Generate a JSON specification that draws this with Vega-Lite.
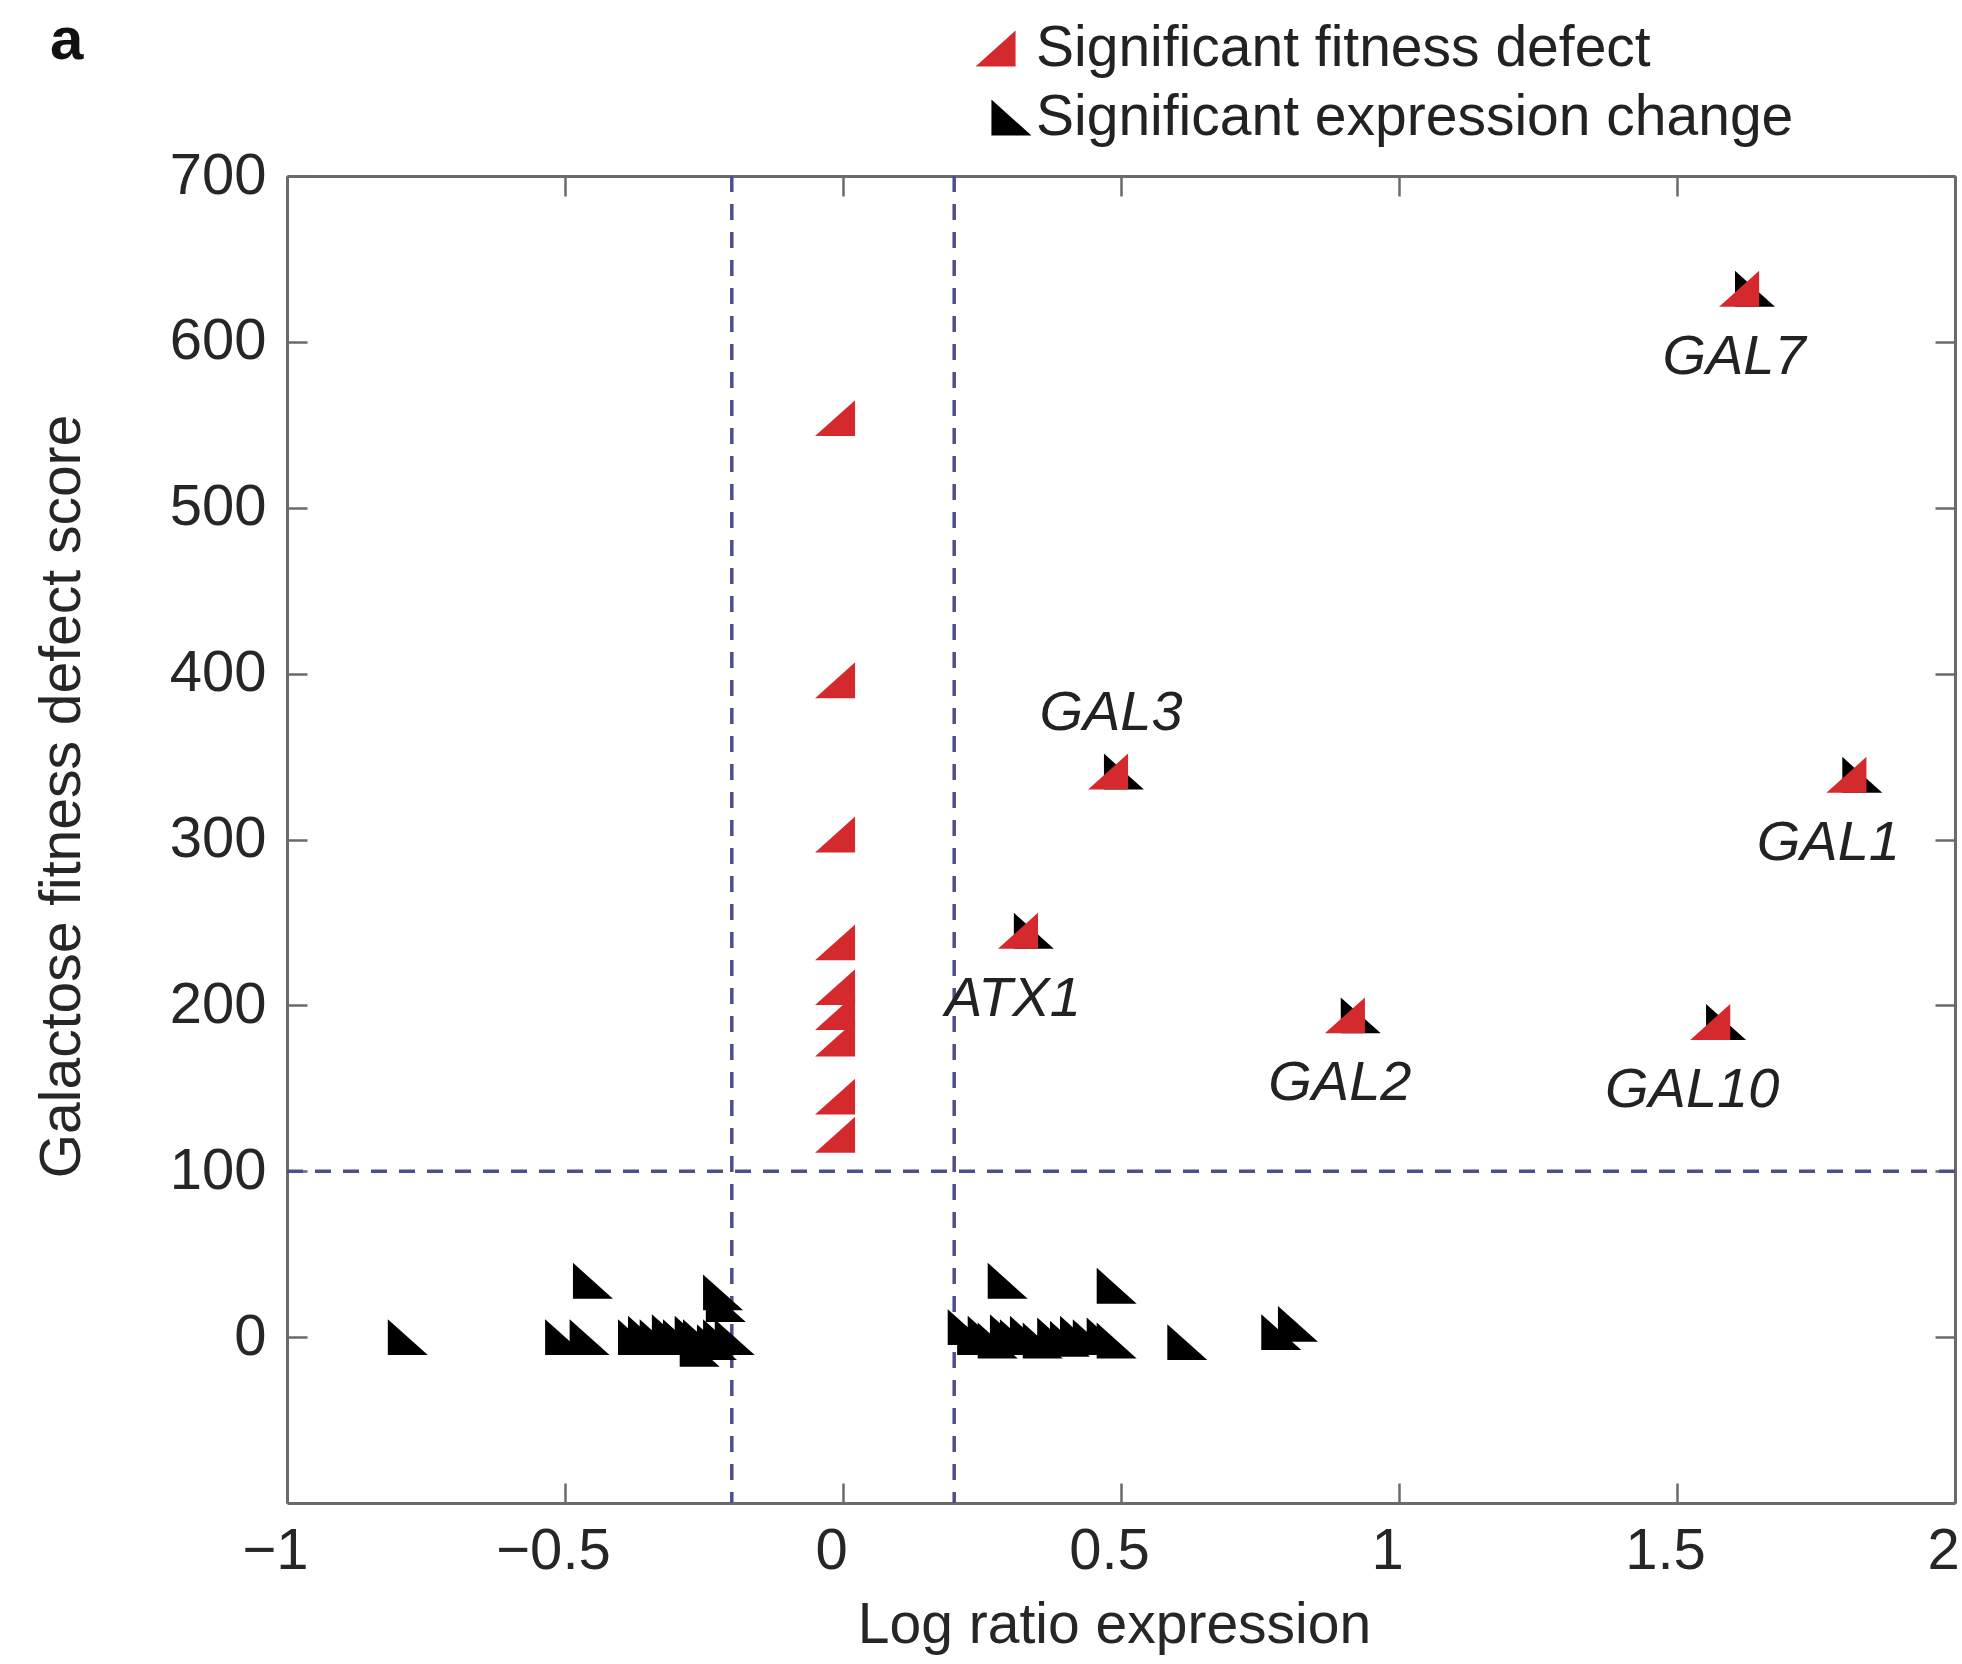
{
  "$schema": "https://vega.github.io/schema/vega-lite/v6.json",
  "width": 1668,
  "height": 1327,
  "autosize": {"type": "none"},
  "padding": {"left": 287, "top": 176, "right": 7, "bottom": 161},
  "background": "white",
  "config": {
    "view": {"stroke": null},
    "font": "Liberation Sans",
    "axis": {
      "grid": false,
      "domainColor": "#6a6a6a",
      "domainWidth": 3,
      "tickColor": "#6a6a6a",
      "tickWidth": 2.5,
      "tickSize": -20,
      "labelFont": "Liberation Sans",
      "labelFontSize": 58,
      "labelColor": "#262626",
      "titleFont": "Liberation Sans",
      "titleFontSize": 57,
      "titleFontWeight": "normal",
      "titleColor": "#262626"
    }
  },
  "title": {
    "text": "a",
    "anchor": "start",
    "frame": "group",
    "orient": "top",
    "font": "Liberation Sans",
    "fontSize": 60,
    "fontWeight": "bold",
    "color": "#111111",
    "baseline": "alphabetic",
    "dx": -237,
    "dy": 105,
    "offset": 0
  },
  "datasets": {
    "genes": [
      {"x": -0.797, "y": 0, "series": "Significant expression change"},
      {"x": -0.464, "y": 34, "series": "Significant expression change"},
      {"x": -0.514, "y": 0, "series": "Significant expression change"},
      {"x": -0.47, "y": 0, "series": "Significant expression change"},
      {"x": -0.383, "y": 0, "series": "Significant expression change"},
      {"x": -0.365, "y": 2, "series": "Significant expression change"},
      {"x": -0.344, "y": 0, "series": "Significant expression change"},
      {"x": -0.322, "y": 3, "series": "Significant expression change"},
      {"x": -0.302, "y": 0, "series": "Significant expression change"},
      {"x": -0.281, "y": 2, "series": "Significant expression change"},
      {"x": -0.272, "y": -7, "series": "Significant expression change"},
      {"x": -0.266, "y": 0, "series": "Significant expression change"},
      {"x": -0.241, "y": -3, "series": "Significant expression change"},
      {"x": -0.23, "y": 0, "series": "Significant expression change"},
      {"x": -0.209, "y": 0, "series": "Significant expression change"},
      {"x": -0.23, "y": 27, "series": "Significant expression change"},
      {"x": -0.225, "y": 20, "series": "Significant expression change"},
      {"x": 0.21, "y": 6, "series": "Significant expression change"},
      {"x": 0.227, "y": 0, "series": "Significant expression change"},
      {"x": 0.246, "y": 2, "series": "Significant expression change"},
      {"x": 0.264, "y": -2, "series": "Significant expression change"},
      {"x": 0.286, "y": 3, "series": "Significant expression change"},
      {"x": 0.304, "y": 0, "series": "Significant expression change"},
      {"x": 0.322, "y": 2, "series": "Significant expression change"},
      {"x": 0.345, "y": -2, "series": "Significant expression change"},
      {"x": 0.371, "y": 1, "series": "Significant expression change"},
      {"x": 0.394, "y": -1, "series": "Significant expression change"},
      {"x": 0.412, "y": 2, "series": "Significant expression change"},
      {"x": 0.435, "y": 0, "series": "Significant expression change"},
      {"x": 0.46, "y": 1, "series": "Significant expression change"},
      {"x": 0.478, "y": -2, "series": "Significant expression change"},
      {"x": 0.282, "y": 34, "series": "Significant expression change"},
      {"x": 0.478, "y": 31, "series": "Significant expression change"},
      {"x": 0.605, "y": -3, "series": "Significant expression change"},
      {"x": 0.774, "y": 3, "series": "Significant expression change"},
      {"x": 0.804, "y": 8, "series": "Significant expression change"},
      {"x": 1.626, "y": 632, "series": "Significant expression change", "gene": "GAL7"},
      {"x": 0.491, "y": 341, "series": "Significant expression change", "gene": "GAL3"},
      {"x": 1.819, "y": 339, "series": "Significant expression change", "gene": "GAL1"},
      {"x": 0.329, "y": 245, "series": "Significant expression change", "gene": "ATX1"},
      {"x": 0.917, "y": 194, "series": "Significant expression change", "gene": "GAL2"},
      {"x": 1.574, "y": 190, "series": "Significant expression change", "gene": "GAL10"},
      {"x": 0, "y": 554, "series": "Significant fitness defect"},
      {"x": 0, "y": 396, "series": "Significant fitness defect"},
      {"x": 0, "y": 303, "series": "Significant fitness defect"},
      {"x": 0, "y": 238, "series": "Significant fitness defect"},
      {"x": 0, "y": 211, "series": "Significant fitness defect"},
      {"x": 0, "y": 196, "series": "Significant fitness defect"},
      {"x": 0, "y": 180, "series": "Significant fitness defect"},
      {"x": 0, "y": 145, "series": "Significant fitness defect"},
      {"x": 0, "y": 122, "series": "Significant fitness defect"},
      {"x": 1.626, "y": 632, "series": "Significant fitness defect", "gene": "GAL7"},
      {"x": 0.491, "y": 341, "series": "Significant fitness defect", "gene": "GAL3"},
      {"x": 1.819, "y": 339, "series": "Significant fitness defect", "gene": "GAL1"},
      {"x": 0.329, "y": 245, "series": "Significant fitness defect", "gene": "ATX1"},
      {"x": 0.917, "y": 194, "series": "Significant fitness defect", "gene": "GAL2"},
      {"x": 1.574, "y": 190, "series": "Significant fitness defect", "gene": "GAL10"}
    ]
  },
  "layer": [
    {
      "data": {"values": [{"t": -0.2}, {"t": 0.2}]},
      "mark": {"type": "rule", "stroke": "#4e4e8e", "strokeWidth": 3.5, "strokeDash": [16, 12]},
      "encoding": {
        "x": {"field": "t", "type": "quantitative", "scale": {"domain": [-1, 2], "nice": false, "zero": false}, "axis": null}
      }
    },
    {
      "data": {"values": [{"t": 100}]},
      "mark": {"type": "rule", "stroke": "#4e4e8e", "strokeWidth": 3.5, "strokeDash": [16, 12]},
      "encoding": {
        "y": {"field": "t", "type": "quantitative", "scale": {"domain": [-100, 700], "nice": false, "zero": false}, "axis": null}
      }
    },
    {
      "data": {"name": "genes"},
      "mark": {"type": "point", "filled": true, "size": 4761, "strokeWidth": 0, "opacity": 1},
      "encoding": {
        "x": {
          "field": "x", "type": "quantitative",
          "scale": {"domain": [-1, 2], "nice": false, "zero": false},
          "axis": {"orient": "bottom", "values": [-1, -0.5, 0, 0.5, 1, 1.5, 2], "format": "~g", "labelFlush": false, "labelOffset": -12, "labelPadding": 39, "title": "Log ratio expression", "titleX": 827, "titleY": 139, "titleBaseline": "alphabetic", "titleAlign": "center"}
        },
        "y": {
          "field": "y", "type": "quantitative",
          "scale": {"domain": [-100, 700], "nice": false, "zero": false},
          "axis": {"orient": "left", "values": [0, 100, 200, 300, 400, 500, 600, 700], "format": "d", "labelPadding": 41, "title": "Galactose fitness defect score", "titleX": -208, "titleY": 620, "titleBaseline": "alphabetic", "titleAlign": "center", "titleAngle": -90}
        },
        "color": {
          "field": "series", "type": "nominal",
          "scale": {"domain": ["Significant fitness defect", "Significant expression change"], "range": ["#d42a2e", "#000000"]},
          "legend": {"orient": "none", "direction": "vertical", "legendX": 682, "legendY": -162, "title": null, "padding": 0, "labelFont": "Liberation Sans", "labelFontSize": 57, "labelColor": "#222222", "labelLimit": 1200, "symbolSize": 4761, "symbolStrokeWidth": 0, "symbolOpacity": 1, "rowPadding": 6, "labelOffset": -2}
        },
        "shape": {
          "field": "series", "type": "nominal",
          "scale": {"domain": ["Significant fitness defect", "Significant expression change"], "range": ["M-0.81,0.52L0.35,-0.52L0.35,0.52Z", "M-0.35,-0.52L0.81,0.52L-0.35,0.52Z"]},
          "legend": {"orient": "none", "direction": "vertical", "legendX": 682, "legendY": -162, "title": null, "padding": 0, "labelFont": "Liberation Sans", "labelFontSize": 57, "labelColor": "#222222", "labelLimit": 1200, "symbolSize": 4761, "symbolStrokeWidth": 0, "symbolOpacity": 1, "rowPadding": 6, "labelOffset": -2}
        }
      }
    },
    {
      "data": {"name": "genes"},
      "mark": {"type": "point", "opacity": 0},
      "encoding": {
        "x": {
          "field": "x", "type": "quantitative",
          "scale": {"domain": [-1, 2], "nice": false, "zero": false},
          "axis": {"orient": "top", "values": [-1, -0.5, 0, 0.5, 1, 1.5, 2], "labels": false, "title": null}
        },
        "y": {
          "field": "y", "type": "quantitative",
          "scale": {"domain": [-100, 700], "nice": false, "zero": false},
          "axis": {"orient": "right", "values": [0, 100, 200, 300, 400, 500, 600, 700], "labels": false, "title": null}
        }
      }
    },
    {
      "data": {"name": "genes"},
      "transform": [
        {"filter": "datum.series == 'Significant fitness defect'"},
        {"filter": "datum.gene == 'GAL7' || datum.gene == 'GAL2' || datum.gene == 'ATX1'"}
      ],
      "mark": {"type": "text", "font": "Liberation Sans", "fontSize": 56, "fontStyle": "italic", "color": "#222222", "align": "center", "baseline": "alphabetic", "dx": -13, "dy": 85},
      "encoding": {
        "x": {"field": "x", "type": "quantitative", "scale": {"domain": [-1, 2], "nice": false, "zero": false}, "axis": null},
        "y": {"field": "y", "type": "quantitative", "scale": {"domain": [-100, 700], "nice": false, "zero": false}, "axis": null},
        "text": {"field": "gene", "type": "nominal"}
      }
    },
    {
      "data": {"name": "genes"},
      "transform": [
        {"filter": "datum.series == 'Significant fitness defect'"},
        {"filter": "datum.gene == 'GAL1' || datum.gene == 'GAL10'"}
      ],
      "mark": {"type": "text", "font": "Liberation Sans", "fontSize": 56, "fontStyle": "italic", "color": "#222222", "align": "center", "baseline": "alphabetic", "dx": -26, "dy": 85},
      "encoding": {
        "x": {"field": "x", "type": "quantitative", "scale": {"domain": [-1, 2], "nice": false, "zero": false}, "axis": null},
        "y": {"field": "y", "type": "quantitative", "scale": {"domain": [-100, 700], "nice": false, "zero": false}, "axis": null},
        "text": {"field": "gene", "type": "nominal"}
      }
    },
    {
      "data": {"name": "genes"},
      "transform": [
        {"filter": "datum.series == 'Significant fitness defect'"},
        {"filter": "datum.gene == 'GAL3'"}
      ],
      "mark": {"type": "text", "font": "Liberation Sans", "fontSize": 56, "fontStyle": "italic", "color": "#222222", "align": "center", "baseline": "alphabetic", "dx": -5, "dy": -41},
      "encoding": {
        "x": {"field": "x", "type": "quantitative", "scale": {"domain": [-1, 2], "nice": false, "zero": false}, "axis": null},
        "y": {"field": "y", "type": "quantitative", "scale": {"domain": [-100, 700], "nice": false, "zero": false}, "axis": null},
        "text": {"field": "gene", "type": "nominal"}
      }
    }
  ],
  "resolve": {"axis": {"x": "independent", "y": "independent"}}
}
